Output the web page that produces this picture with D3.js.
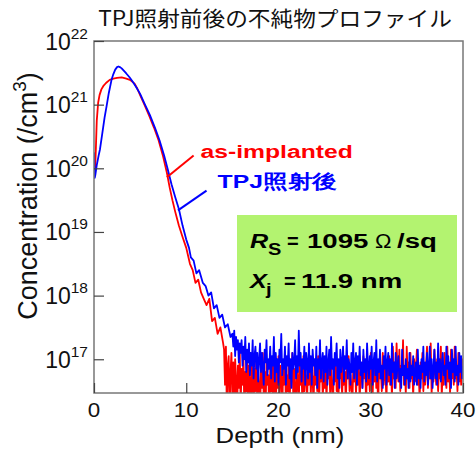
<!DOCTYPE html>
<html><head><meta charset="utf-8">
<script src="https://cdn.jsdelivr.net/npm/d3@7"></script>
<style>body{margin:0;background:#fff}svg{display:block}</style>
</head><body>
<svg id="c" width="476" height="452"></svg>
<script>
// ---- data (depth in nm, log10 of concentration in /cm^3) ----
const xTicks = [0, 10, 20, 30, 40];
const yTickExps = [17, 18, 19, 20, 21, 22];
const titleText = "TPJ照射前後の不純物プロファイル";
const xLabel = "Depth (nm)";
const seriesNames = ["as-implanted", "TPJ照射後"];
const seriesColors = ["#ff0000", "#0000ff"];

const redCurve = [[0.0,19.95],[0.1,19.9],[0.2,20.3],[0.3,20.75],[0.45,21.03],[0.6,21.15],[0.8,21.24],[1.0,21.29],[1.3,21.34],[1.7,21.39],[2.1,21.41],[2.5,21.42],[3.0,21.43],[3.5,21.41],[3.9,21.39],[4.4,21.33],[4.7,21.25],[5.0,21.15],[5.5,20.99],[6.0,20.82],[6.5,20.64],[7.0,20.44],[7.5,20.18],[7.9,19.93],[8.2,19.7],[8.5,19.5],[8.8,19.32],[9.2,19.1],[9.6,18.92],[10.0,18.75],[10.4,18.5],[10.7,18.4],[11.0,18.2],[11.3,18.25],[11.6,18.05],[11.9,17.95],[12.2,17.85],[12.5,17.95],[12.8,17.6],[13.1,17.65],[13.4,17.4],[13.7,17.5],[14.0,17.25]];
const noiseStep = 0.1;
const redNoiseStart = 14.1;
const redNoise = [
17.15,16.6,17.2,16.2,16.9,17.05,16.1,16.8,17.1,16.4,
16.95,16.2,17.0,16.7,16.0,16.9,16.55,17.1,16.3,16.85,
16.6,17.05,16.15,16.8,16.5,17.0,16.2,16.9,16.65,16.1,
16.95,16.7,16.2,16.85,16.5,17.05,16.3,16.8,16.6,16.05,
16.9,16.55,17.1,16.35,16.8,16.2,16.95,16.6,16.75,16.1,
16.85,16.5,17.0,16.25,16.9,16.65,16.15,16.8,16.55,17.05,
16.4,16.9,16.7,16.1,16.85,16.6,17.0,16.3,16.75,16.5,
16.95,16.2,16.8,16.65,17.1,16.4,16.85,16.55,16.15,16.9,
16.7,16.3,16.95,16.6,16.8,16.2,17.05,16.5,16.85,16.7,
16.35,16.9,16.6,17.0,16.45,16.8,16.7,16.25,16.95,16.6,
16.8,16.5,17.05,16.3,16.85,16.65,16.9,16.4,16.75,16.55,
16.95,16.35,16.8,16.7,17.0,16.45,16.85,16.6,16.2,16.9,
16.65,17.05,16.5,16.8,16.35,16.95,16.7,16.85,16.4,17.0,
16.6,16.8,16.3,16.9,16.7,17.05,16.5,16.75,16.6,16.25,
16.85,16.65,17.0,16.45,16.8,16.6,16.95,16.35,16.75,16.9,
16.55,17.05,16.7,16.85,16.3,16.95,16.6,16.8,16.5,17.1,
16.7,16.4,16.9,16.65,17.0,16.55,16.85,16.2,16.95,16.7,
16.8,16.5,17.1,16.6,16.9,16.75,16.35,16.95,16.65,17.05,
16.6,16.85,16.4,17.2,16.7,16.95,16.55,17.25,16.8,16.65,
17.15,16.5,16.9,16.75,17.3,16.6,16.85,16.45,17.2,16.7,
16.95,16.55,17.1,16.7,16.9,16.4,17.0,16.65,16.85,17.15,
16.6,16.8,16.35,16.95,16.7,17.1,16.5,16.85,16.6,16.9,
17.2,16.55,16.85,16.7,17.25,16.45,16.9,16.65,17.15,16.8,
16.6,17.0,16.5,16.85,16.7,17.2,16.4,16.9,16.6,17.1,
16.75,16.55,17.2,16.65,16.9,16.45,17.15,16.7,16.95,16.6,
17.2,16.7,16.85,16.5,17.1,16.65,16.9,16.6,17.0,16.7];

const blueCurve = [[0.0,20.25],[0.08,19.85],[0.15,19.9],[0.3,20.05],[0.5,20.2],[0.65,20.3],[0.9,20.55],[1.15,20.8],[1.37,20.98],[1.6,21.18],[1.9,21.39],[2.1,21.48],[2.3,21.55],[2.5,21.59],[2.65,21.6],[2.8,21.59],[3.0,21.57],[3.25,21.53],[3.5,21.49],[3.85,21.43],[4.2,21.36],[4.6,21.27],[5.0,21.17],[5.5,21.01],[6.05,20.84],[6.6,20.64],[7.1,20.44],[7.6,20.2],[8.0,19.98],[8.4,19.75],[8.8,19.55],[9.2,19.36],[9.6,19.1],[10.0,18.88],[10.3,18.75],[10.5,18.6],[10.8,18.55],[11.1,18.35],[11.4,18.4],[11.8,18.2],[12.1,18.15],[12.4,18.0],[12.7,18.05],[13.0,17.8],[13.3,17.85],[13.6,17.65],[13.9,17.7],[14.2,17.5],[14.5,17.55],[14.8,17.35]];
const blueNoiseStart = 15.0;
const blueNoise = [
17.4,17.2,17.45,17.05,17.35,17.15,17.3,16.95,17.25,17.1,
17.3,16.9,17.2,17.0,17.35,16.8,17.15,16.95,17.25,16.75,
17.1,16.9,17.3,16.7,17.05,17.2,16.85,17.1,16.65,17.0,
17.25,16.8,17.1,16.9,16.6,17.15,16.95,17.3,16.75,17.0,
16.85,17.2,16.7,17.05,16.9,17.35,16.65,17.1,16.8,17.0,
16.6,17.15,16.95,17.4,16.75,17.0,16.85,17.2,16.6,17.05,
16.9,17.25,16.7,17.0,16.55,17.1,16.85,16.95,17.3,16.7,
17.05,16.8,17.45,16.9,17.1,16.65,17.0,16.85,17.2,16.6,
17.1,16.95,16.7,17.25,16.8,17.05,16.6,17.15,16.9,17.0,
16.75,17.2,16.55,17.0,16.85,17.3,16.7,16.95,17.1,16.65,
17.05,16.8,17.2,16.6,16.95,17.15,16.75,17.35,16.85,17.0,
16.6,17.1,16.9,17.25,16.7,17.0,16.55,17.15,16.8,16.95,
17.2,16.65,17.05,16.85,17.3,16.7,17.0,16.9,16.6,17.1,
16.8,17.25,16.7,16.95,17.1,16.6,17.05,16.85,17.2,16.75,
16.95,16.55,17.15,16.8,17.0,16.65,17.25,16.9,16.7,17.05,
16.85,17.2,16.6,16.95,17.1,16.75,17.3,16.65,17.0,16.8,
17.15,16.7,16.9,16.55,17.05,16.85,17.2,16.6,16.95,17.1,
16.75,17.0,16.6,17.25,16.8,16.95,16.55,17.1,16.7,16.9,
17.05,16.65,16.85,16.55,17.15,16.75,16.9,16.6,17.0,16.7,
16.85,16.55,17.1,16.65,16.9,16.75,17.05,16.6,16.8,16.95,
16.6,17.15,16.7,16.9,16.55,17.0,16.8,17.2,16.65,16.95,
16.75,17.1,16.6,16.9,17.2,16.7,17.0,16.55,16.85,17.15,
16.7,16.95,16.6,17.25,16.8,17.0,16.65,16.9,17.1,16.75,
16.9,16.6,17.2,16.85,17.05,16.7,16.95,16.55,17.15,16.8,
17.0,16.65,17.2,16.75,16.9,16.6,17.1,16.8,17.05,16.7,
16.9];

// result box text pieces
const boxLine1 = [["R","main"],["S","sub"],["=","eq"],["1095","num"],["Ω","omega"],["/sq","num"]];
const boxLine2 = [["X","main"],["j","sub"],["=","eq"],["11.9 nm","num"]];

// ---- build series ----
function build(curve, noise, start){
  const pts = curve.map(d => ({d: d[0], c: Math.pow(10, d[1])}));
  noise.forEach((v,i) => pts.push({d: start + i*noiseStep, c: Math.pow(10, v)}));
  return pts;
}
const red = build(redCurve, redNoise, redNoiseStart);
const blue = build(blueCurve, blueNoise, blueNoiseStart);

const svg = d3.select("#c");
const L = 94, R = 463, T = 41, B = 393;
const x = d3.scaleLinear().domain([0, 40]).range([L, R]);
const y = d3.scaleLog().domain([Math.pow(10,16.47), 1e22]).range([B, T]);
const SX = 1.12;
const FONT = "'Liberation Sans', Arial, Helvetica, sans-serif";

// title
svg.append("g").attr("transform", `translate(275,26) scale(1.08,1)`)
  .append("text").attr("text-anchor","middle")
  .attr("font-family","'Noto Sans CJK JP', sans-serif").attr("font-size",21)
  .attr("fill","#111").text(titleText);

// clip
svg.append("clipPath").attr("id","plotclip").append("rect")
  .attr("x",L).attr("y",T).attr("width",R-L).attr("height",B-T);

const line = d3.line().x(d => x(d.d)).y(d => y(Math.max(d.c, 1e15)));
const gData = svg.append("g").attr("clip-path","url(#plotclip)");
gData.append("path").datum(red).attr("fill","none").attr("stroke",seriesColors[0])
  .attr("stroke-width",1.8).attr("stroke-linejoin","round").attr("d",line);
gData.append("path").datum(blue).attr("fill","none").attr("stroke",seriesColors[1])
  .attr("stroke-width",1.8).attr("stroke-linejoin","round").attr("d",line);

// frame
svg.append("rect").attr("x",L).attr("y",T).attr("width",R-L).attr("height",B-T)
  .attr("fill","none").attr("stroke","#777").attr("stroke-width",1.5);

// axes (inward ticks)
const xAxis = d3.axisBottom(x).tickValues(xTicks).tickSize(-10).tickSizeOuter(0).tickFormat("");
const gx = svg.append("g").attr("transform",`translate(0,${B})`).call(xAxis);
gx.select(".domain").remove();
gx.selectAll(".tick line").attr("stroke","#444").attr("stroke-width",1.2);

const yAxis = d3.axisLeft(y).tickValues(yTickExps.map(e => Math.pow(10,e))).tickSize(-10).tickSizeOuter(0).tickFormat("");
const gy = svg.append("g").attr("transform",`translate(${L},0)`).call(yAxis);
gy.select(".domain").remove();
gy.selectAll(".tick line").attr("stroke","#444").attr("stroke-width",1.2);

// x tick labels
xTicks.forEach(t => {
  svg.append("g").attr("transform",`translate(${x(t)},417) scale(${SX},1)`)
    .append("text").attr("text-anchor","middle").attr("font-family",FONT)
    .attr("font-size",20).attr("fill","#111").text(t);
});
// y tick labels
yTickExps.forEach(e => {
  const t = svg.append("g").attr("transform",`translate(88,${y(Math.pow(10,e))+8.5})`)
    .append("text").attr("text-anchor","end").attr("font-family",FONT).attr("fill","#111");
  t.append("tspan").attr("font-size",23).text("10");
  t.append("tspan").attr("font-size",15.5).attr("dy",-11).text(e);
});

// axis titles
svg.append("g").attr("transform",`translate(280,443) scale(${SX},1)`)
  .append("text").attr("text-anchor","middle").attr("font-family",FONT)
  .attr("font-size",23).attr("fill","#111").text(xLabel);
const yl = svg.append("g").attr("transform",`translate(37,196) rotate(-90)`)
  .append("text").attr("text-anchor","middle").attr("font-family",FONT)
  .attr("font-size",27).attr("fill","#111");
yl.append("tspan").text("Concentration (/cm");
yl.append("tspan").attr("font-size",19).attr("dy",-11).text("3");
yl.append("tspan").attr("dy",11).text(")");

// legend annotations (data coords)
function ann(i, from, to, labelAt){
  svg.append("line").attr("x1",x(from[0])).attr("y1",y(Math.pow(10,from[1])))
    .attr("x2",x(to[0])).attr("y2",y(Math.pow(10,to[1])))
    .attr("stroke",seriesColors[i]).attr("stroke-width",2);
  svg.append("g").attr("transform",`translate(${x(labelAt[0])},${y(Math.pow(10,labelAt[1]))}) scale(1.3,1)`)
    .append("text").attr("font-family",FONT).attr("font-weight","bold")
    .attr("font-size",19).attr("fill",seriesColors[i]).text(seriesNames[i]);
}
ann(0, [7.9,19.86], [10.8,20.2], [11.55,20.16]);
ann(1, [9.1,19.34], [12.2,19.65], [13.4,19.69]);

// result box
svg.append("rect").attr("x",237).attr("y",215).attr("width",220).attr("height",97).attr("fill","#b3f370");
const pieceStyle = {
  main:  {size:21, sx:1.2, dy:0, italic:true},
  sub:   {size:16, sx:1.25, dy:7, italic:false},
  eq:    {size:20, sx:1.0, dy:0, italic:false},
  num:   {size:20, sx:1.38, dy:0, italic:false},
  omega: {size:20, sx:1.1, dy:0, italic:false}
};
function boxLine(pieces, xs, ty){
  pieces.forEach((p,i) => {
    const st = pieceStyle[p[1]];
    svg.append("g").attr("transform",`translate(${xs[i]},${ty+st.dy}) scale(${st.sx},1)`)
      .append("text").attr("font-family",FONT).attr("font-weight", p[1]==="omega" ? "normal" : "bold")
      .attr("font-style", st.italic ? "italic" : "normal")
      .attr("font-size",st.size).attr("fill","#000").text(p[0]);
  });
}
boxLine(boxLine1, [250,268,287,307,375,397], 248);
boxLine(boxLine2, [250,266,284,301], 288);
</script>
</body></html>
